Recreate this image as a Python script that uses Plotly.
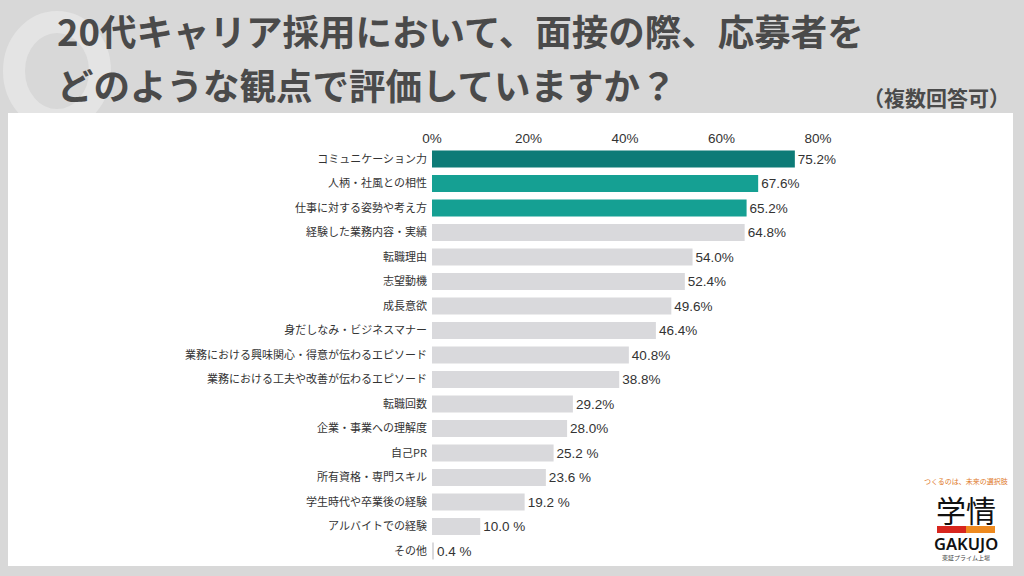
import plotly.graph_objects as go

categories = [
    "コミュニケーション力", "人柄・社風との相性", "仕事に対する姿勢や考え方", "経験した業務内容・実績",
    "転職理由", "志望動機", "成長意欲", "身だしなみ・ビジネスマナー",
    "業務における興味関心・得意が伝わるエピソード", "業務における工夫や改善が伝わるエピソード",
    "転職回数", "企業・事業への理解度", "自己PR", "所有資格・専門スキル",
    "学生時代や卒業後の経験", "アルバイトでの経験", "その他",
]
values = [75.2, 67.6, 65.2, 64.8, 54.0, 52.4, 49.6, 46.4, 40.8, 38.8, 29.2, 28.0, 25.2, 23.6, 19.2, 10.0, 0.4]
value_labels = ["75.2%", "67.6%", "65.2%", "64.8%", "54.0%", "52.4%", "49.6%", "46.4%", "40.8%", "38.8%",
                "29.2%", "28.0%", "25.2 %", "23.6 %", "19.2 %", "10.0 %", "0.4 %"]
tick_vals = [0, 20, 40, 60, 80]
tick_text = ["0%", "20%", "40%", "60%", "80%"]
bar_colors = ["#0d7b77", "#15a093", "#15a093"] + ["#d9d9dc"] * 14
title_lines = ["20代キャリア採用において、面接の際、応募者を", "どのような観点で評価していますか？"]

W, H = 1024, 576
def px(x): return x / W
def py(y): return 1 - y / H

FONT = "Noto Sans CJK JP"
NUMFONT = "Liberation Sans, Noto Sans CJK JP"

fig = go.Figure(go.Bar(
    x=values, y=categories, orientation="h",
    marker=dict(color=bar_colors, line=dict(width=0)),
    text=value_labels, textposition="outside",
    textfont=dict(family=NUMFONT, size=13.5, color="#333333"),
    cliponaxis=False, hoverinfo="skip",
))

title_ann = [
    dict(text="<b>" + line + "</b>", x=px(55), y=py(yc),
         xref="paper", yref="paper", xanchor="left", yanchor="middle",
         showarrow=False, font=dict(family=FONT, size=36.5, color="#4a4a4a"))
    for line, yc in zip(title_lines, [31, 84])
]

fig.update_layout(
    width=W, height=H, autosize=False,
    margin=dict(l=0, r=0, t=0, b=0),
    paper_bgcolor="#d8d8d8", plot_bgcolor="rgba(0,0,0,0)",
    showlegend=False, bargap=0.3,
    font=dict(family=FONT, color="#333333"),
    xaxis=dict(domain=[px(432), px(818)], range=[0, 80], side="top",
               tickvals=tick_vals, ticktext=tick_text, showgrid=False, zeroline=False,
               showline=False, ticks="", automargin=False,
               tickfont=dict(family=NUMFONT, size=13.5, color="#333333")),
    yaxis=dict(domain=[py(563.25), py(146.75)], autorange="reversed", showgrid=False,
               showline=False, ticks="", ticklabelstandoff=4, automargin=False,
               tickfont=dict(size=11, color="#333333")),
    shapes=[
        dict(type="circle", xref="paper", yref="paper", layer="below",
             x0=px(14), x1=px(100), y0=py(120), y1=py(22),
             line=dict(color="#e4e4e4", width=22), fillcolor="rgba(0,0,0,0)"),
        dict(type="rect", xref="paper", yref="paper", layer="below",
             x0=px(8), x1=px(1013), y0=py(566), y1=py(113),
             line=dict(width=0), fillcolor="#ffffff"),
        dict(type="rect", xref="paper", yref="paper", layer="above",
             x0=px(937), x1=px(966), y0=py(533), y1=py(526),
             line=dict(width=0), fillcolor="#d7261e"),
        dict(type="rect", xref="paper", yref="paper", layer="above",
             x0=px(966), x1=px(995), y0=py(533), y1=py(526),
             line=dict(width=0), fillcolor="#ee8a1f"),
    ],
    annotations=title_ann + [
        dict(text="<b>（複数回答可）</b>", x=px(1012), y=py(97),
             xref="paper", yref="paper", xanchor="right", yanchor="middle", showarrow=False,
             font=dict(family=FONT, size=21, color="#4a4a4a")),
        dict(text="つくるのは、未来の選択肢", x=px(966), y=py(481),
             xref="paper", yref="paper", xanchor="center", yanchor="middle", showarrow=False,
             font=dict(family=FONT, size=7, color="#e07a2a")),
        dict(text="学情", x=px(966), y=py(509),
             xref="paper", yref="paper", xanchor="center", yanchor="middle", showarrow=False,
             font=dict(family=FONT, size=30, color="#111111")),
        dict(text="GAKUJO", x=px(966), y=py(543),
             xref="paper", yref="paper", xanchor="center", yanchor="middle", showarrow=False,
             font=dict(family="Noto Sans", size=16.5, color="#111111", weight=600)),
        dict(text="東証プライム上場", x=px(966), y=py(557),
             xref="paper", yref="paper", xanchor="center", yanchor="middle", showarrow=False,
             font=dict(family=FONT, size=6, color="#444444")),
    ],
)

fig.write_html("out.html", config={"responsive": False})
